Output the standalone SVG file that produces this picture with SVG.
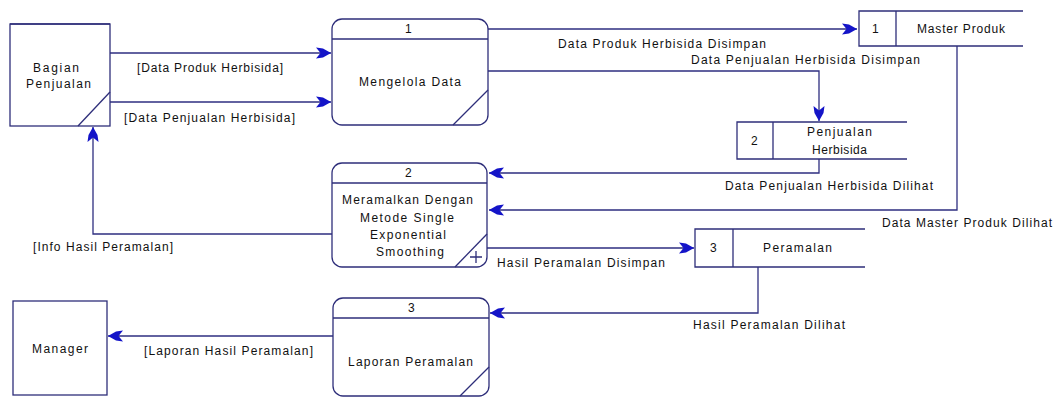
<svg xmlns="http://www.w3.org/2000/svg" width="1056" height="397" viewBox="0 0 1056 397">
<style>
.box{fill:#fff;stroke:#2e2e7a;stroke-width:1.3}
.ln{fill:none;stroke:#2e2e7a;stroke-width:1.3}
.fl{fill:none;stroke:#2e2e80;stroke-width:1.3}
text{font-family:"Liberation Sans",Arial,sans-serif;font-size:12px;fill:#111}
</style>
<defs>
<marker id="ah" viewBox="-15 -6 16 12" refX="0" refY="0" markerWidth="16" markerHeight="12" markerUnits="userSpaceOnUse" orient="auto">
<path d="M0,0 L-8,-4.5 L-15,-5.5 L-10.5,0 L-15,5.5 L-8,4.5 Z" fill="#1414c8"/>
</marker>
</defs>
<rect width="1056" height="397" fill="#fff"/>

<g id="connectors">
<path class="fl" d="M110,53 H331" marker-end="url(#ah)"/>
<path class="fl" d="M110,102 H331" marker-end="url(#ah)"/>
<path class="fl" d="M488,29 H857" marker-end="url(#ah)"/>
<path class="fl" d="M488,71 H819 V121" marker-end="url(#ah)"/>
<path class="fl" d="M819,159 V173 H489" marker-end="url(#ah)"/>
<path class="fl" d="M957,46 V210 H489" marker-end="url(#ah)"/>
<path class="fl" d="M332,234 H93 V127" marker-end="url(#ah)"/>
<path class="fl" d="M487,248 H694" marker-end="url(#ah)"/>
<path class="fl" d="M758,267 V313 H490" marker-end="url(#ah)"/>
<path class="fl" d="M333,336 H108" marker-end="url(#ah)"/>
<text x="137" y="72" textLength="146" lengthAdjust="spacing">[Data Produk Herbisida]</text>
<text x="124" y="122" textLength="171" lengthAdjust="spacing">[Data Penjualan Herbisida]</text>
<text x="558" y="48" textLength="208" lengthAdjust="spacing">Data Produk Herbisida Disimpan</text>
<text x="691" y="64" textLength="229" lengthAdjust="spacing">Data Penjualan Herbisida Disimpan</text>
<text x="725" y="190" textLength="208" lengthAdjust="spacing">Data Penjualan Herbisida Dilihat</text>
<text x="882" y="227" textLength="170" lengthAdjust="spacing">Data Master Produk Dilihat</text>
<text x="33" y="251" textLength="140" lengthAdjust="spacing">[Info Hasil Peramalan]</text>
<text x="497" y="267" textLength="168" lengthAdjust="spacing">Hasil Peramalan Disimpan</text>
<text x="693" y="329" textLength="152" lengthAdjust="spacing">Hasil Peramalan Dilihat</text>
<text x="144" y="355" textLength="169" lengthAdjust="spacing">[Laporan Hasil Peramalan]</text>
</g>

<g id="bagian-penjualan">
<rect class="box" x="10" y="24" width="100" height="102"/>
<line class="ln" x1="10" y1="24" x2="110" y2="24" stroke-width="2.5"/>
<line class="ln" x1="78" y1="126" x2="110" y2="92"/>
<text x="33" y="72" textLength="46" lengthAdjust="spacing">Bagian</text>
<text x="26" y="88" textLength="65" lengthAdjust="spacing">Penjualan</text>
</g>

<g id="manager">
<rect class="box" x="13" y="301" width="94" height="94"/>
<text x="32" y="353" textLength="56" lengthAdjust="spacing">Manager</text>
</g>

<g id="proc1">
<rect class="box" x="332" y="19" width="156" height="106" rx="10"/>
<line class="ln" x1="332" y1="39" x2="488" y2="39"/>
<line class="ln" x1="453" y1="125" x2="488" y2="90"/>
<text x="405" y="33">1</text>
<text x="359" y="86" textLength="102" lengthAdjust="spacing">Mengelola Data</text>
</g>

<g id="proc2">
<rect class="box" x="332" y="163" width="155" height="104" rx="10"/>
<line class="ln" x1="332" y1="183" x2="487" y2="183"/>
<line class="ln" x1="455" y1="267" x2="487" y2="234"/>
<path class="ln" d="M476,251 V263 M470,257 H482"/>
<text x="405" y="177">2</text>
<text x="342" y="204" textLength="131" lengthAdjust="spacing">Meramalkan Dengan</text>
<text x="360" y="222" textLength="94" lengthAdjust="spacing">Metode Single</text>
<text x="370" y="239" textLength="76" lengthAdjust="spacing">Exponential</text>
<text x="376" y="256" textLength="68" lengthAdjust="spacing">Smoothing</text>
</g>

<g id="proc3">
<rect class="box" x="333" y="298" width="156" height="98" rx="10"/>
<line class="ln" x1="333" y1="318" x2="489" y2="318"/>
<line class="ln" x1="460" y1="396" x2="489" y2="367"/>
<text x="408" y="312">3</text>
<text x="348" y="366" textLength="125" lengthAdjust="spacing">Laporan Peramalan</text>
</g>

<g id="store1">
<path class="ln" d="M1023,11 H859 V46 H1023 M896,11 V46"/>
<text x="872" y="33">1</text>
<text x="917" y="33" textLength="88" lengthAdjust="spacing">Master Produk</text>
</g>

<g id="store2">
<path class="ln" d="M907,122 H737 V159 H907 M773,122 V159"/>
<text x="751" y="145">2</text>
<text x="807" y="136" textLength="65" lengthAdjust="spacing">Penjualan</text>
<text x="812" y="154" textLength="55" lengthAdjust="spacing">Herbisida</text>
</g>

<g id="store3">
<path class="ln" d="M865,229 H695 V267 H865 M733,229 V267"/>
<text x="710" y="252">3</text>
<text x="763" y="252" textLength="69" lengthAdjust="spacing">Peramalan</text>
</g>
</svg>
